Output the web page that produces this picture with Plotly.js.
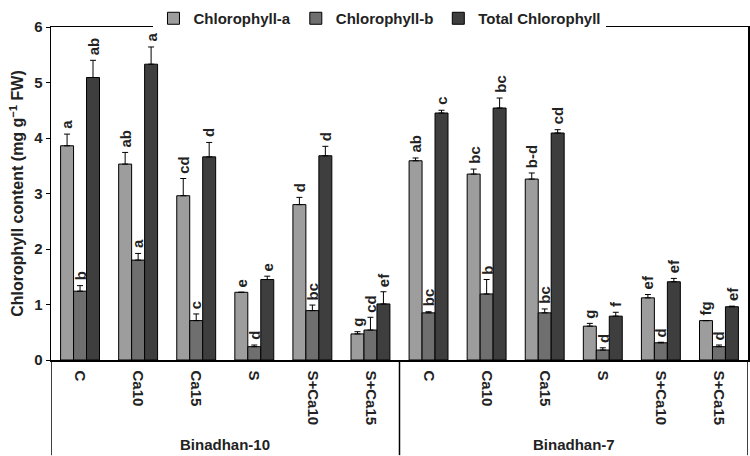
<!DOCTYPE html>
<html>
<head>
<meta charset="utf-8">
<script src="https://cdn.plot.ly/plotly-3.0.1.min.js"></script>
<style>html,body{margin:0;padding:0;background:#fff;}#chart{width:750px;height:456px;}</style>
</head>
<body>
<div id="chart"></div>
<script>
// ---- data ----
const groups = ['Binadhan-10', 'Binadhan-7'];
const treatments = ['C', 'Ca10', 'Ca15', 'S', 'S+Ca10', 'S+Ca15'];
const seriesNames = ['Chlorophyll-a', 'Chlorophyll-b', 'Total Chlorophyll'];

const chlA     = [3.86, 3.53, 2.96, 1.22, 2.80, 0.47,  3.59, 3.35, 3.26, 0.61, 1.12, 0.71];
const chlAErr  = [0.21, 0.21, 0.31, 0.00, 0.13, 0.04,  0.05, 0.09, 0.11, 0.05, 0.06, 0.00];
const chlB     = [1.24, 1.80, 0.71, 0.24, 0.89, 0.54,  0.85, 1.19, 0.85, 0.18, 0.31, 0.24];
const chlBErr  = [0.10, 0.12, 0.12, 0.03, 0.10, 0.23,  0.02, 0.26, 0.07, 0.04, 0.01, 0.03];
const total    = [5.09, 5.33, 3.66, 1.45, 3.68, 1.01,  4.45, 4.54, 4.09, 0.79, 1.41, 0.96];
const totalErr = [0.31, 0.31, 0.26, 0.06, 0.17, 0.22,  0.05, 0.18, 0.06, 0.07, 0.06, 0.01];

const lettersA     = ['a','ab','cd','e','d','g',  'ab','bc','b-d','g','ef','fg'];
const lettersB     = ['b','a','c','d','bc','cd',  'bc','b','bc','d','d','d'];
const lettersTotal = ['ab','a','d','e','d','ef',  'c','bc','cd','f','ef','ef'];

// ---- build ----
const tickText = [];
groups.forEach(() => treatments.forEach(t => tickText.push(t)));
const xIdx = tickText.map((_, i) => i);

const colors = ['#9d9d9d', '#6f6f6f', '#3e3e3e'];
const vals = [chlA, chlB, total];
const errs = [chlAErr, chlBErr, totalErr];
const letters = [lettersA, lettersB, lettersTotal];

const bargap = 0.33;
const barW = (1 - bargap) / 3;
const FONT = 'Liberation Sans, Arial, sans-serif';

const traces = vals.map((v, s) => ({
  type: 'bar',
  name: seriesNames[s],
  x: xIdx,
  y: v,
  marker: {color: colors[s], line: {color: '#000', width: 1}},
  error_y: {type: 'data', symmetric: false, array: errs[s], arrayminus: errs[s].map(() => 0),
            color: '#000', thickness: 1, width: 3},
  hoverinfo: 'skip'
}));

const annotations = [];
vals.forEach((v, s) => {
  v.forEach((val, i) => {
    annotations.push({
      x: i + (s - 1) * barW, y: val + errs[s][i], xref: 'x', yref: 'y',
      text: '<b>' + letters[s][i] + '</b>', showarrow: false, textangle: -90,
      xanchor: 'center', yanchor: 'bottom', yshift: 3,
      font: {family: FONT, size: 15, color: '#222'}
    });
  });
});
groups.forEach((g, gi) => {
  annotations.push({
    x: gi * treatments.length + (treatments.length - 1) / 2, y: -0.253, xref: 'x', yref: 'paper',
    text: '<b>' + g + '</b>', showarrow: false, xanchor: 'center', yanchor: 'middle',
    font: {family: FONT, size: 15, color: '#222'}
  });
});

const shapes = [];
const bottom = -96 / 336;
for (let gi = 0; gi <= groups.length; gi++) {
  const xv = gi * treatments.length - 0.5;
  shapes.push({type: 'line', xref: 'x', yref: 'paper', x0: xv, x1: xv, y0: 0, y1: bottom,
               line: {color: '#000', width: 1.5}});
}

const layout = {
  width: 750, height: 456,
  margin: {l: 51, r: 2, t: 24, b: 96},
  paper_bgcolor: '#fff', plot_bgcolor: '#fff',
  barmode: 'group', bargap: bargap, bargroupgap: 0,
  font: {family: FONT, size: 15, color: '#222'},
  showlegend: true,
  legend: {orientation: 'h', x: 0.472, xanchor: 'center', y: 1.075, yanchor: 'top',
           font: {size: 15, weight: 'bold', color: '#222'}, itemwidth: 30, traceorder: 'normal'},
  xaxis: {
    tickmode: 'array', tickvals: xIdx, ticktext: tickText,
    tickangle: 90, range: [-0.5, 11.5], showgrid: false, zeroline: false,
    showline: true, linecolor: '#000', linewidth: 1.5, mirror: true, ticks: '',
    ticklabelstandoff: 6,
    tickfont: {size: 15, weight: 'bold', color: '#222'}, fixedrange: true
  },
  yaxis: {
    range: [0, 6], dtick: 1, showgrid: false, zeroline: false,
    showline: true, linecolor: '#000', linewidth: 1.5, mirror: true,
    ticks: 'outside', ticklen: 4, tickcolor: '#000',
    tickfont: {size: 15, weight: 'bold', color: '#222'},
    title: {text: 'Chlorophyll content (mg g<sup>\u22121</sup> FW)', standoff: 6,
            font: {size: 16, weight: 'bold', color: '#222'}}
  },
  annotations: annotations,
  shapes: shapes
};

Plotly.newPlot('chart', traces, layout, {displayModeBar: false, staticPlot: true});
</script>
</body>
</html>
